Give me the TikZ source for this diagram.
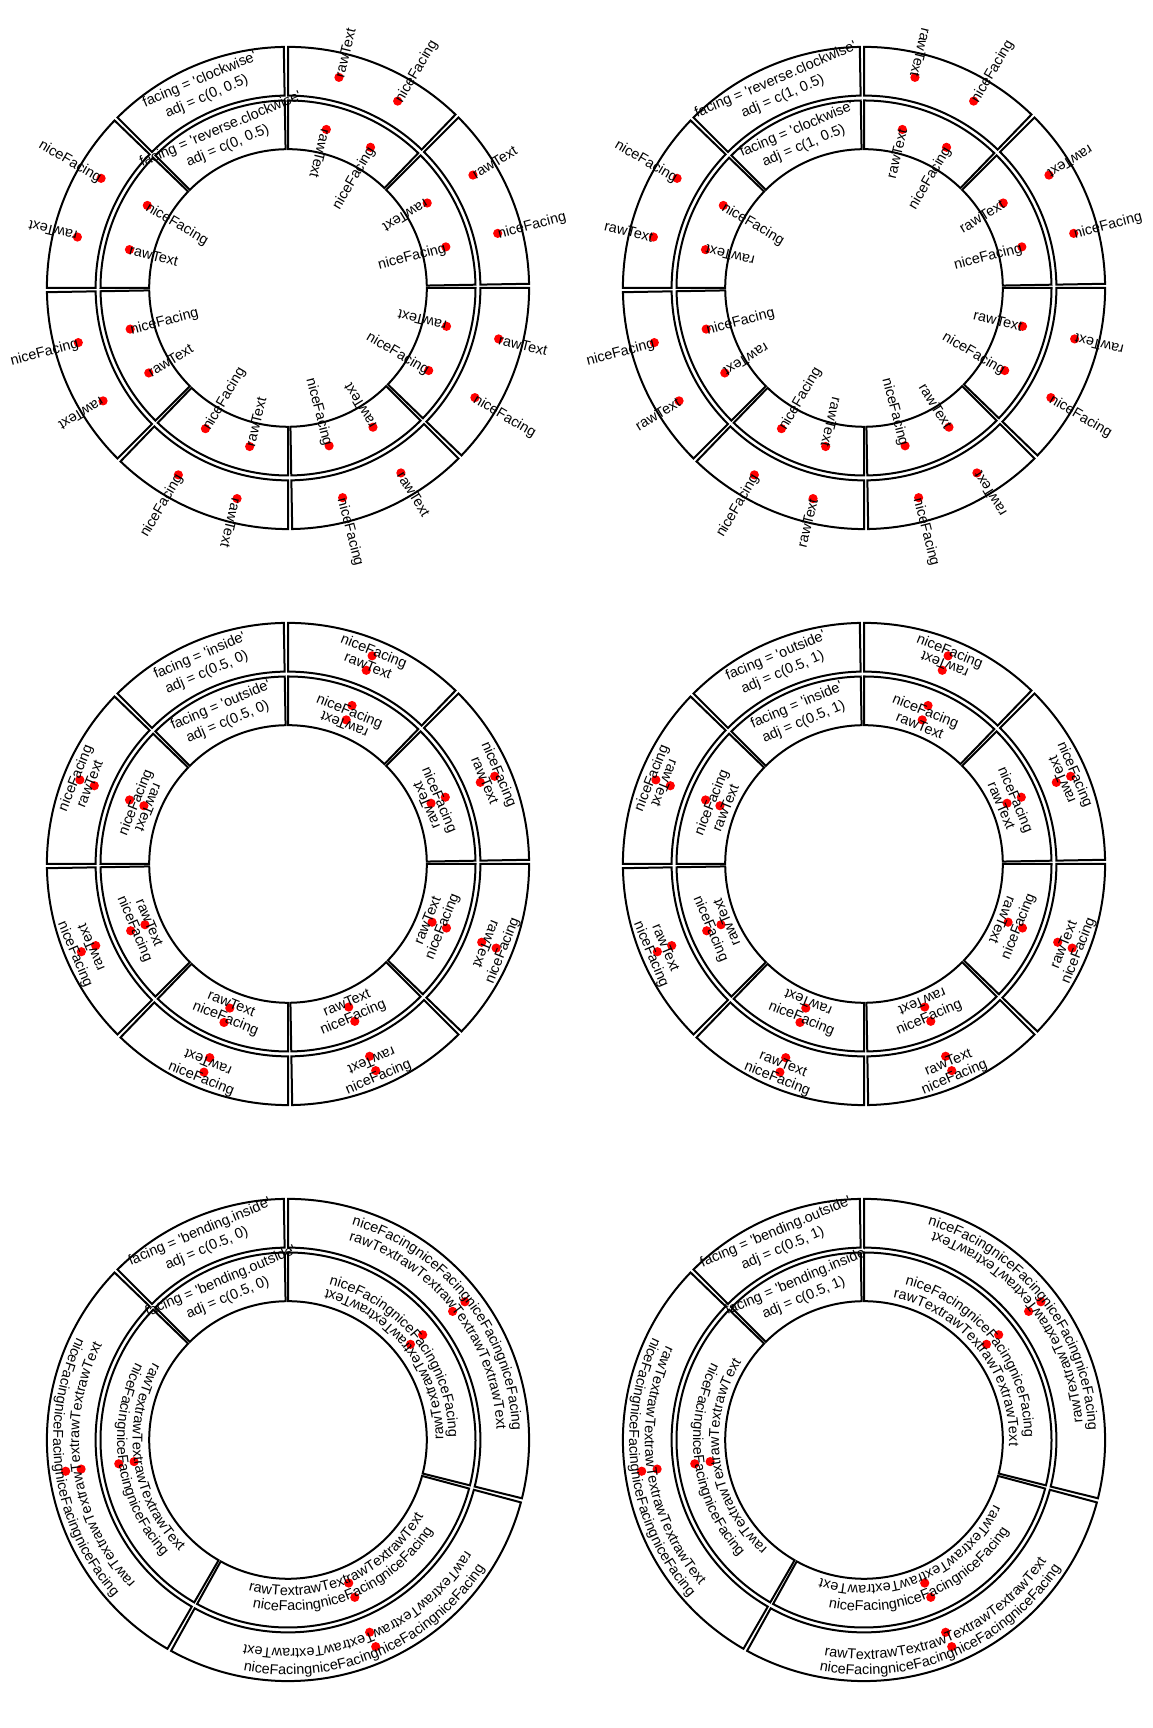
\documentclass[tikz,border=0pt]{standalone}
\usepackage{fontspec}
\newfontfamily\plotfont{Liberation Sans}

% track radii (px): outer cell, inner cell, data rows
\def\rA{241.1}\def\rB{192.4}\def\rC{187.5}\def\rD{138.8}
\def\oM{216.7}\def\oL{208.9}\def\oH{224.5}
\def\iM{163.1}\def\iL{155.4}\def\iH{170.9}
% character widths (em) for the bent words
\def\rawchars{r/.333,a/.556,w/.722,T/.611,e/.556,x/.5,t/.278}
\def\nicechars{n/.556,i/.222,c/.5,e/.556,F/.611,a/.556,c/.5,i/.222,n/.556,g/.556}
\newdimen\bendpos

\newcommand{\cellpair}[2]{%
  \draw[cellbox] (#1:\rA) arc[start angle=#1, end angle=#1-#2, radius=\rA] -- (#1-#2:\rB) arc[start angle=#1-#2, end angle=#1, radius=\rB] -- cycle;
  \draw[cellbox] (#1:\rC) arc[start angle=#1, end angle=#1-#2, radius=\rC] -- (#1-#2:\rD) arc[start angle=#1-#2, end angle=#1, radius=\rD] -- cycle;}
\newcommand{\flatword}[6]{%
  \node[wordtxt, rotate=#4, anchor=#5] (#1) at (#2:#3) {#6};}
\newcommand{\niceword}[7]{%
  \pgfmathtruncatemacro\upside{cos(#4)<0}%
  \ifnum\upside=1 \node[wordtxt, rotate=#4+180, anchor=#6] (#1) at (#2:#3) {#7};%
  \else \node[wordtxt, rotate=#4, anchor=#5] (#1) at (#2:#3) {#7};\fi}
% name, centre angle, baseline radius, reading dir (-1 clockwise), copies, chars, word width
\newcommand{\bendword}[7]{%
  \global\bendpos=0pt
  \pgfmathsetmacro\bendhalf{#5*#7/2}
  \pgfmathsetmacro\bendscale{825.06/#3}
  \foreach \rep in {1,...,#5}{
    \foreach \chr/\w [count=\idx] in #6{
      \pgfmathsetmacro\bendphi{#2+(#4)*(\bendpos+\w/2-\bendhalf)*\bendscale}
      \node[bendchar, rotate=\bendphi+(#4)*90] (#1-\rep-\idx) at (\bendphi:#3) {\chr};
      \global\advance\bendpos by \w pt
    }
  }}

\begin{document}
\begin{tikzpicture}[x=0.5pt, y=0.5pt,
  cellbox/.style={draw=black, line width=1pt},
  reddot/.style={fill=red},
  wordtxt/.style={font=\plotfont\fontsize{7.2}{9}\selectfont, inner sep=0pt, text height=5.2pt, text depth=0pt},
  labeltxt/.style={font=\plotfont\fontsize{7.2}{9}\selectfont, inner sep=0pt, align=center},
  bendchar/.style={font=\plotfont\fontsize{7.2}{9}\selectfont, inner sep=0pt, anchor=base}]
  \path[use as bounding box, fill=white] (0,0) rectangle (1152,1728);

  % clockwise / reverse.clockwise
  \begin{scope}[shift={(288,1440)}]
    \foreach \s in {90,45,...,-225} {\cellpair{\s}{44}}
    \node[labeltxt, rotate=23] (p1-tag-out) at (113:\oM) {facing = 'clockwise'\\adj = c(0, 0.5)};
    \node[labeltxt, rotate=23] (p1-tag-in) at (113:\iM) {facing = 'reverse.clockwise'\\adj = c(0, 0.5)};
    \foreach \s [count=\m] in {90,45,...,-180} {
      \pgfmathsetmacro\ta{\s-13.6} \pgfmathsetmacro\tb{\s-30.4}
      \fill[reddot] (\ta:\oM) circle[radius=4.6] (\tb:\oM) circle[radius=4.6]
                    (\ta:\iM) circle[radius=4.6] (\tb:\iM) circle[radius=4.6];
      \flatword{p1-or\m}{\ta}{\oM}{\ta}{west}{rawText}
      \niceword{p1-on\m}{\tb}{\oM}{\tb}{west}{east}{niceFacing}
      \flatword{p1-ir\m}{\ta}{\iM}{\ta+180}{west}{rawText}
      \niceword{p1-in\m}{\tb}{\iM}{\tb+180}{west}{east}{niceFacing}
    }
  \end{scope}

  % reverse.clockwise / clockwise
  \begin{scope}[shift={(864,1440)}]
    \foreach \s in {90,45,...,-225} {\cellpair{\s}{44}}
    \node[labeltxt, rotate=23] (p2-tag-out) at (113:\oM) {facing = 'reverse.clockwise'\\adj = c(1, 0.5)};
    \node[labeltxt, rotate=23] (p2-tag-in) at (113:\iM) {facing = 'clockwise'\\adj = c(1, 0.5)};
    \foreach \s [count=\m] in {90,45,...,-180} {
      \pgfmathsetmacro\ta{\s-13.6} \pgfmathsetmacro\tb{\s-30.4}
      \fill[reddot] (\ta:\oM) circle[radius=4.6] (\tb:\oM) circle[radius=4.6]
                    (\ta:\iM) circle[radius=4.6] (\tb:\iM) circle[radius=4.6];
      \flatword{p2-or\m}{\ta}{\oM}{\ta+180}{east}{rawText}
      \niceword{p2-on\m}{\tb}{\oM}{\tb+180}{east}{west}{niceFacing}
      \flatword{p2-ir\m}{\ta}{\iM}{\ta}{east}{rawText}
      \niceword{p2-in\m}{\tb}{\iM}{\tb}{east}{west}{niceFacing}
    }
  \end{scope}

  % inside / outside
  \begin{scope}[shift={(288,864)}]
    \foreach \s in {90,45,...,-225} {\cellpair{\s}{44}}
    \node[labeltxt, rotate=23] (p3-tag-out) at (113:\oM) {facing = 'inside'\\adj = c(0.5, 0)};
    \node[labeltxt, rotate=23] (p3-tag-in) at (113:\iM) {facing = 'outside'\\adj = c(0.5, 0)};
    \foreach \s [count=\m] in {90,45,...,-180} {
      \pgfmathsetmacro\tc{\s-22}
      \fill[reddot] (\tc:\oL) circle[radius=4.6] (\tc:\oH) circle[radius=4.6]
                    (\tc:\iL) circle[radius=4.6] (\tc:\iH) circle[radius=4.6];
      \flatword{p3-or\m}{\tc}{\oL}{\tc-90}{south}{rawText}
      \niceword{p3-on\m}{\tc}{\oH}{\tc-90}{south}{north}{niceFacing}
      \flatword{p3-ir\m}{\tc}{\iL}{\tc+90}{south}{rawText}
      \niceword{p3-in\m}{\tc}{\iH}{\tc+90}{south}{north}{niceFacing}
    }
  \end{scope}

  % outside / inside
  \begin{scope}[shift={(864,864)}]
    \foreach \s in {90,45,...,-225} {\cellpair{\s}{44}}
    \node[labeltxt, rotate=23] (p4-tag-out) at (113:\oM) {facing = 'outside'\\adj = c(0.5, 1)};
    \node[labeltxt, rotate=23] (p4-tag-in) at (113:\iM) {facing = 'inside'\\adj = c(0.5, 1)};
    \foreach \s [count=\m] in {90,45,...,-180} {
      \pgfmathsetmacro\tc{\s-22}
      \fill[reddot] (\tc:\oL) circle[radius=4.6] (\tc:\oH) circle[radius=4.6]
                    (\tc:\iL) circle[radius=4.6] (\tc:\iH) circle[radius=4.6];
      \flatword{p4-or\m}{\tc}{\oL}{\tc+90}{north}{rawText}
      \niceword{p4-on\m}{\tc}{\oH}{\tc+90}{north}{south}{niceFacing}
      \flatword{p4-ir\m}{\tc}{\iL}{\tc-90}{north}{rawText}
      \niceword{p4-in\m}{\tc}{\iH}{\tc-90}{north}{south}{niceFacing}
    }
  \end{scope}

  % bending.inside / bending.outside
  \begin{scope}[shift={(288,288)}]
    \foreach \s/\w in {90/104,-15/104,-120/104,135/44} {\cellpair{\s}{\w}}
    \node[labeltxt, rotate=23] (p5-tag-out) at (113:\oM) {facing = 'bending.inside'\\adj = c(0.5, 0)};
    \node[labeltxt, rotate=23] (p5-tag-in) at (113:\iM) {facing = 'bending.outside'\\adj = c(0.5, 0)};
    \foreach \t/\nd/\nob/\nib [count=\m] in {38/-1/224.5/160.6, -67/1/234.8/170.9, -172/1/234.8/170.9} {
      \fill[reddot] (\t:\oL) circle[radius=4.6] (\t:\oH) circle[radius=4.6]
                    (\t:\iL) circle[radius=4.6] (\t:\iH) circle[radius=4.6];
      \bendword{p5-or\m}{\t}{208.9}{-1}{5}{\rawchars}{3.556}
      \bendword{p5-on\m}{\t}{\nob}{\nd}{4}{\nicechars}{4.835}
      \bendword{p5-ir\m}{\t}{155.4}{1}{4}{\rawchars}{3.556}
      \bendword{p5-in\m}{\t}{\nib}{\nd}{3}{\nicechars}{4.835}
    }
  \end{scope}

  % bending.outside / bending.inside
  \begin{scope}[shift={(864,288)}]
    \foreach \s/\w in {90/104,-15/104,-120/104,135/44} {\cellpair{\s}{\w}}
    \node[labeltxt, rotate=23] (p6-tag-out) at (113:\oM) {facing = 'bending.outside'\\adj = c(0.5, 1)};
    \node[labeltxt, rotate=23] (p6-tag-in) at (113:\iM) {facing = 'bending.inside'\\adj = c(0.5, 1)};
    \foreach \t/\nd/\nob/\nib [count=\m] in {38/-1/224.5/160.6, -67/1/234.8/170.9, -172/1/234.8/170.9} {
      \fill[reddot] (\t:\oL) circle[radius=4.6] (\t:\oH) circle[radius=4.6]
                    (\t:\iL) circle[radius=4.6] (\t:\iH) circle[radius=4.6];
      \bendword{p6-or\m}{\t}{219.2}{1}{5}{\rawchars}{3.556}
      \bendword{p6-on\m}{\t}{\nob}{\nd}{4}{\nicechars}{4.835}
      \bendword{p6-ir\m}{\t}{145.1}{-1}{4}{\rawchars}{3.556}
      \bendword{p6-in\m}{\t}{\nib}{\nd}{3}{\nicechars}{4.835}
    }
  \end{scope}
\end{tikzpicture}
\end{document}
